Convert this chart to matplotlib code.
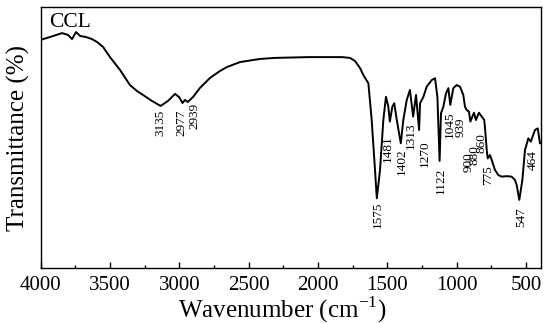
import numpy as np
import matplotlib
matplotlib.use('Agg')
import matplotlib.pyplot as plt

plt.rcParams['font.family'] = ['Liberation Serif', 'DejaVu Serif']
plt.rcParams['mathtext.fontset'] = 'custom'
plt.rcParams['mathtext.rm'] = 'Liberation Serif'

# FTIR spectrum of CCL
wavenumber = [4000, 3933, 3846, 3803, 3774, 3745, 3716, 3673, 3630, 3594,
              3550, 3500, 3428, 3356, 3305, 3262, 3197, 3135, 3082, 3031,
              3002, 2977, 2959, 2939, 2901, 2851, 2779, 2706, 2656, 2562,
              2418, 2309, 2071, 1826, 1768, 1732, 1696, 1672, 1636, 1612,
              1588, 1575, 1552, 1528, 1509, 1492, 1481, 1463, 1449, 1431,
              1402, 1384, 1359, 1336, 1313, 1292, 1270, 1263, 1239, 1215,
              1179, 1155, 1138, 1122, 1112, 1095, 1076, 1059, 1045, 1023,
              999, 975, 951, 939, 926, 910, 900, 874, 860, 838,
              818, 800, 794, 782, 775, 759, 746, 722, 698, 674,
              638, 602, 578, 566, 547, 525, 506, 482, 464, 434,
              414, 398]
transmittance = [87.4, 88.5, 90.0, 89.3, 87.7, 90.4, 88.9, 88.5, 87.7, 86.6,
                 84.7, 80.8, 75.9, 70.1, 67.8, 66.3, 64.0, 62.1, 64.0, 66.7,
                 65.5, 63.2, 64.4, 63.6, 65.5, 69.0, 72.8, 75.5, 77.0, 78.9,
                 80.1, 80.5, 80.8, 80.8, 80.5, 79.3, 76.6, 73.9, 70.8, 56.7,
                 37.5, 26.7, 37.5, 56.7, 65.6, 61.8, 56.1, 61.8, 63.1, 56.7,
                 47.8, 56.7, 64.4, 68.2, 58.0, 66.3, 52.9, 63.1, 65.6, 69.5,
                 72.0, 72.7, 65.6, 41.0, 59.3, 61.8, 66.9, 68.9, 62.5, 68.9,
                 70.1, 69.5, 66.3, 61.8, 60.5, 59.9, 56.1, 59.5, 56.7, 59.5,
                 58.0, 56.7, 53.5, 45.2, 42.0, 43.3, 41.4, 37.5, 35.6, 35.0,
                 35.2, 35.0, 33.7, 31.8, 26.1, 33.7, 45.2, 49.7, 48.4, 52.9,
                 53.5, 47.8]

# peak labels and where their tops sit
peak_text = ['3135', '2977', '2939', '1575', '1481', '1402', '1313', '1270',
             '1122', '1045', '939', '900', '880', '860', '775', '547', '464']
peak_x = [3139, 2988, 2894, 1566, 1494, 1393, 1328, 1227,
          1112, 1050, 972, 915, 867, 820, 773, 535, 449]
peak_top = [60.5, 60.5, 63.2, 25.3, 51.0, 46.0, 55.6, 49.0,
            38.3, 59.8, 57.5, 44.4, 47.1, 51.7, 39.5, 23.4, 45.2]

fig = plt.figure(figsize=(5.5, 3.24), dpi=100)
ax = fig.add_axes([0.074, 0.1728, 0.909, 0.8056])

ax.plot(wavenumber, transmittance, color='black', lw=1.4)

for t, x, y in zip(peak_text, peak_x, peak_top):
    ax.text(x, y, t, rotation=90, ha='center', va='top', fontsize=9.5)

ax.text(3790, 94, 'CCL', fontsize=15.5, ha='center', va='center')

ax.set_xlim(4000, 393)
ax.set_ylim(0, 100)
ax.set_xticks(np.arange(4000, 499, -500))
ax.set_xticks(np.arange(3750, 499, -500), minor=True)
ax.set_yticks([])
ax.tick_params(axis='x', which='both', direction='in', top=False,
               labelsize=15, pad=6, width=1)
ax.tick_params(axis='x', which='major', length=4)
ax.tick_params(axis='x', which='minor', length=2.5)
for s in ax.spines.values():
    s.set_linewidth(1.0)

ax.set_xlabel('Wavenumber (cm$^{-1}$)', fontsize=18)
ax.xaxis.set_label_coords(0.483, -0.1)
ax.set_ylabel('Transmittance (%)', fontsize=18, labelpad=8)

fig.savefig('out.png', dpi=100)
